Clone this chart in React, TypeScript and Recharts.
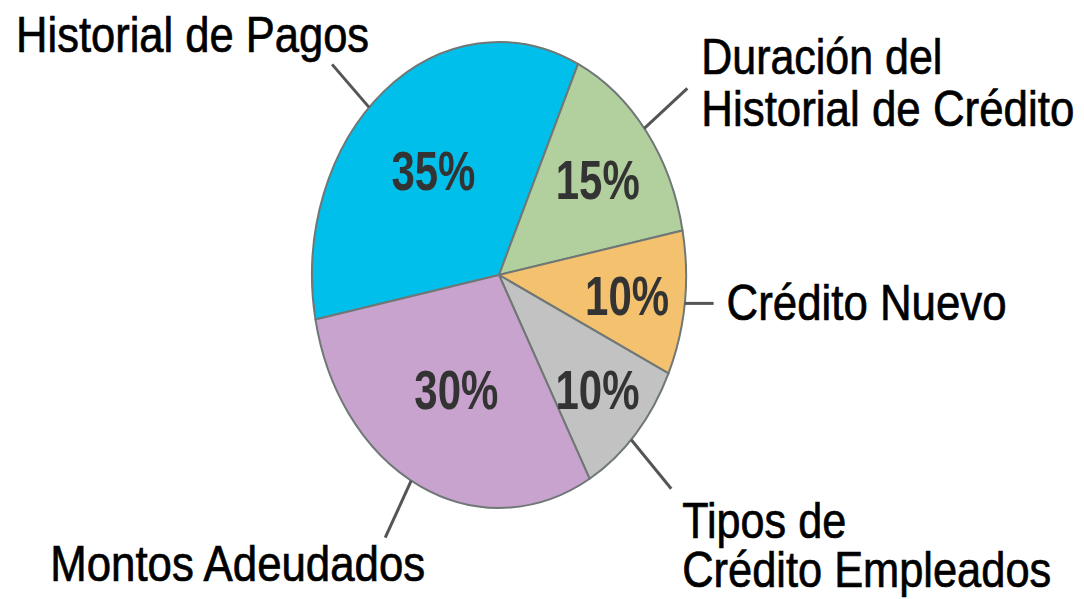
import { PieChart, Pie } from 'recharts'

const categories = [
  'Historial de Pagos',
  'Duración del\nHistorial de Crédito',
  'Crédito Nuevo',
  'Tipos de\nCrédito Empleados',
  'Montos Adeudados',
]
const shares = [35, 15, 10, 10, 30]
const colors = ['#00C0EB', '#B2CF9E', '#F4C26E', '#C2C2C2', '#C7A3CD']

const data = categories.map((name, i) => ({ name, value: shares[i] }))

// the original pie is drawn as an ellipse, taller than wide
const RX = 187
const RY = 233
const stretch = RY / RX

// where the percent sits inside each slice (fraction of radius)
const valueRadius = [0.57, 0.67, 0.69, 0.72, 0.54]
// small tweak of leader start angle vs. slice mid angle
const leaderTilt = [6, 1, 0, -2, -3]
// leader run from the rim
const leaderRun = [
  [-37, -43],
  [43, -40],
  [29, 0],
  [40, 49],
  [-26, 57],
]
const textPlace = [
  { anchor: 'end', dx: 37, dy: [-12], len: [353] },
  { anchor: 'start', dx: 14, dy: [-14, 38], len: [241, 373] },
  { anchor: 'start', dx: 13, dy: [17], len: [280] },
  { anchor: 'start', dx: 11, dy: [49, 98], len: [164, 369] },
  { anchor: 'start', dx: -335, dy: [43], len: [375] },
]

const FONT = '"Liberation Sans Narrow", "Liberation Sans", Arial, sans-serif'
const RAD = Math.PI / 180

const onRim = (cx: number, cy: number, r: number, deg: number) => ({
  x: cx + r * Math.cos(deg * RAD),
  y: cy - r * stretch * Math.sin(deg * RAD),
})

const EllipseSector = (props: any) => {
  const { cx, cy, outerRadius, startAngle, endAngle, fill } = props
  const a = onRim(cx, cy, outerRadius, startAngle)
  const b = onRim(cx, cy, outerRadius, endAngle)
  const large = Math.abs(startAngle - endAngle) > 180 ? 1 : 0
  const sweep = startAngle > endAngle ? 1 : 0
  const d = `M${cx},${cy} L${a.x},${a.y} A${outerRadius},${outerRadius * stretch} 0 ${large} ${sweep} ${b.x},${b.y} Z`
  return <path d={d} fill={fill} stroke='#6f7777' strokeWidth={2} strokeLinejoin='round' />
}

const renderLabel = (props: any) => {
  const { cx, cy, midAngle, outerRadius, percent, index, name } = props
  const inner = onRim(cx, cy, outerRadius * valueRadius[index], midAngle)
  const start = onRim(cx, cy, outerRadius, midAngle + leaderTilt[index])
  const end = { x: start.x + leaderRun[index][0], y: start.y + leaderRun[index][1] }
  const place = textPlace[index]
  const lines = String(name).split('\n')
  return (
    <g>
      <text
        x={inner.x}
        y={inner.y + 20}
        textAnchor='middle'
        fontFamily={FONT}
        fontSize={55}
        fontWeight='bold'
        fill='#333'
        textLength={84}
        lengthAdjust='spacingAndGlyphs'
      >
        {Math.round(percent * 100)}%
      </text>
      <line x1={start.x} y1={start.y} x2={end.x} y2={end.y} stroke='#555' strokeWidth={3} />
      {lines.map((line, k) => (
        <text
          key={k}
          x={end.x + place.dx}
          y={end.y + place.dy[k]}
          textAnchor={place.anchor as any}
          fontFamily={FONT}
          fontSize={50}
          fill='#000'
          stroke='#000'
          strokeWidth={0.7}
          textLength={place.len[k]}
          lengthAdjust='spacingAndGlyphs'
        >
          {line}
        </text>
      ))}
    </g>
  )
}

export default function App() {
  return (
    <div style={{ position: 'absolute', left: 0, top: 0, background: '#fff' }}>
      <PieChart width={1084} height={599} margin={{ top: 0, right: 0, bottom: 0, left: 0 }}>
        <Pie
          data={data}
          dataKey='value'
          nameKey='name'
          cx={499}
          cy={275}
          outerRadius={RX}
          startAngle={191}
          endAngle={-169}
          shape={(p: any) => <EllipseSector {...p} fill={colors[p.index]} />}
          label={renderLabel}
          labelLine={false}
          isAnimationActive={false}
        />
      </PieChart>
    </div>
  )
}
